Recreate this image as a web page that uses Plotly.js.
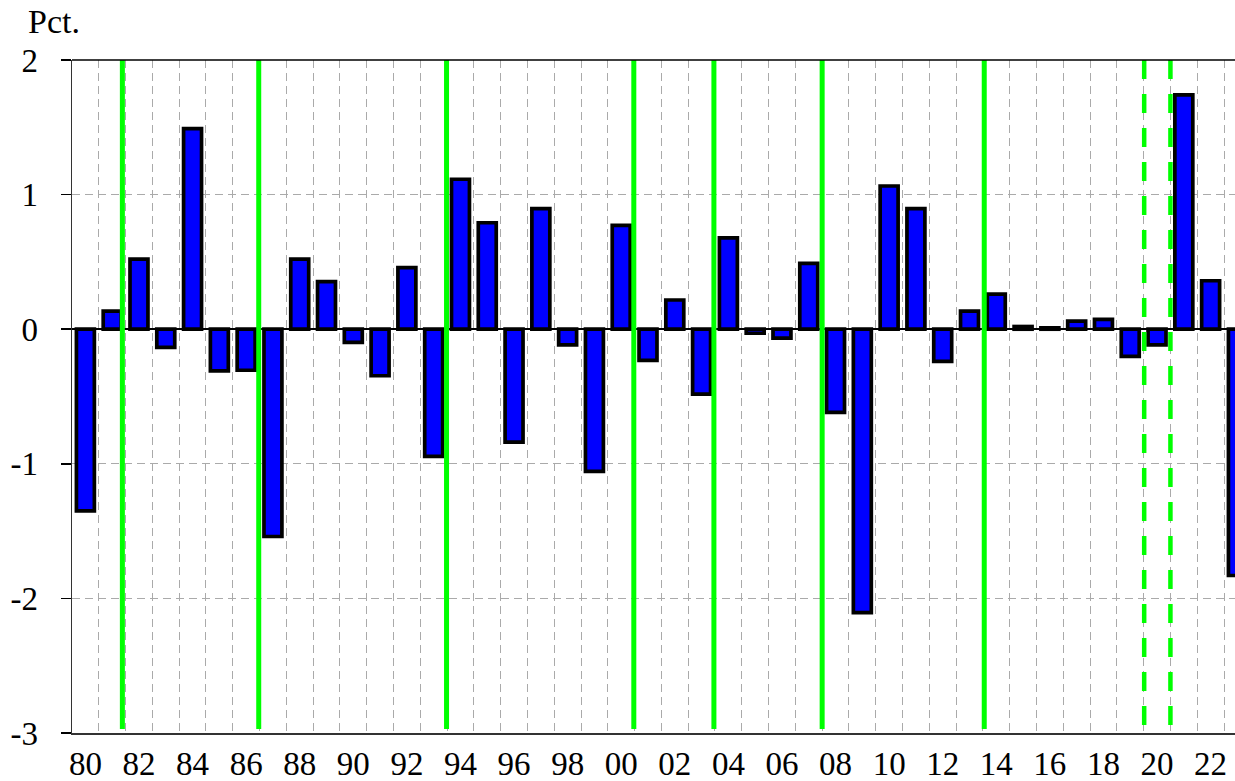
<!DOCTYPE html>
<html>
<head>
<meta charset="utf-8">
<script src="https://cdn.plot.ly/plotly-3.0.1.min.js"></script>
<style>
  html, body { margin: 0; padding: 0; background: #fff; overflow: hidden; }
  #chart { width: 1235px; height: 781px; }
</style>
</head>
<body>
<div id="chart"></div>
<script>
// ---- Data ----
const years = [1980,1981,1982,1983,1984,1985,1986,1987,1988,1989,
               1990,1991,1992,1993,1994,1995,1996,1997,1998,1999,
               2000,2001,2002,2003,2004,2005,2006,2007,2008,2009,
               2010,2011,2012,2013,2014,2015,2016,2017,2018,2019,
               2020,2021,2022,2023];
const values = [-1.35, 0.135, 0.52, -0.135, 1.49, -0.31, -0.305, -1.54, 0.52, 0.353,
                -0.098, -0.346, 0.457, -0.945, 1.114, 0.791, -0.839, 0.896, -0.116, -1.057,
                0.772, -0.232, 0.217, -0.482, 0.678, -0.03, -0.066, 0.489, -0.618, -2.105,
                1.064, 0.896, -0.239, 0.135, 0.261, 0.02, 0.01, 0.06, 0.073, -0.202,
                -0.116, 1.741, 0.36, -1.83];
const xTickVals = [1980,1982,1984,1986,1988,1990,1992,1994,1996,1998,2000,
                   2002,2004,2006,2008,2010,2012,2014,2016,2018,2020,2022];
const xTickLabels = ['80','82','84','86','88','90','92','94','96','98','00',
                     '02','04','06','08','10','12','14','16','18','20','22'];
const yTickVals = [-3,-2,-1,0,1,2];
const yTickLabels = ['-3','-2','-1','0','1','2'];
const solidMarkers = [1981.38, 1986.47, 1993.48, 2000.47, 2003.46, 2007.5, 2013.55];
const dashedMarkers = [2019.52, 2020.5];
const unitLabel = 'Pct.';

// ---- Build ----
const gridVals = years.map(y => y - 0.5).concat([years[years.length-1] + 0.5]);
const serif = 'Liberation Serif';

const trace = {
  type: 'bar',
  x: years,
  y: values,
  width: 0.67,
  marker: { color: '#0000ff', line: { color: '#000000', width: 3.7 } },
  hoverinfo: 'x+y'
};

const shapes = [];
solidMarkers.forEach(v => shapes.push({
  type: 'line', xref: 'x', yref: 'y', x0: v, x1: v, y0: 2, y1: -2.97,
  line: { color: '#00ff00', width: 5 }, layer: 'above'
}));
dashedMarkers.forEach(v => shapes.push({
  type: 'line', xref: 'x', yref: 'y', x0: v, x1: v, y0: 2, y1: -2.97,
  line: { color: '#00ff00', width: 4.5, dash: '19px,15px' }, layer: 'above'
}));
// top frame line
shapes.push({
  type: 'line', xref: 'paper', yref: 'paper', x0: 0, x1: 1, y0: 1, y1: 1,
  line: { color: '#000000', width: 1.5 }, layer: 'above'
});

const layout = {
  width: 1235, height: 781,
  margin: { l: 72, r: 0, t: 60, b: 48, pad: 0 },
  paper_bgcolor: '#ffffff', plot_bgcolor: '#ffffff',
  showlegend: false,
  bargap: 0,
  font: { family: serif, color: '#000000' },
  xaxis: {
    range: [1979.5, 2022.91],
    tickmode: 'array', tickvals: xTickVals, ticktext: xTickLabels,
    ticks: '', showgrid: false, zeroline: false,
    showline: true, linecolor: '#333333', linewidth: 2,
    tickfont: { family: serif, size: 33, color: '#000000' },
    ticklabelstandoff: 0,
    minor: {
      tickmode: 'array', tickvals: gridVals, ticks: '',
      showgrid: true, gridcolor: '#aaaaaa', gridwidth: 1, griddash: '8px,5px'
    }
  },
  yaxis: {
    range: [-3, 2],
    tickmode: 'array', tickvals: yTickVals, ticktext: yTickLabels,
    ticks: 'outside', ticklen: 10, tickwidth: 1.5, tickcolor: '#000000',
    showline: true, linecolor: '#333333', linewidth: 1.5,
    showgrid: true, gridcolor: '#aaaaaa', gridwidth: 1, griddash: '8px,5px',
    zeroline: true, zerolinecolor: '#000000', zerolinewidth: 1.5,
    tickfont: { family: serif, size: 33, color: '#000000' },
    ticklabelstandoff: 16
  },
  shapes: shapes,
  annotations: [{
    text: unitLabel, xref: 'paper', yref: 'paper',
    x: -46/1163, y: 1 + 38/673, xanchor: 'left', yanchor: 'middle',
    showarrow: false, font: { family: serif, size: 34, color: '#000000' }
  }]
};

Plotly.newPlot('chart', [trace], layout, { displayModeBar: false, staticPlot: true });
</script>
</body>
</html>
